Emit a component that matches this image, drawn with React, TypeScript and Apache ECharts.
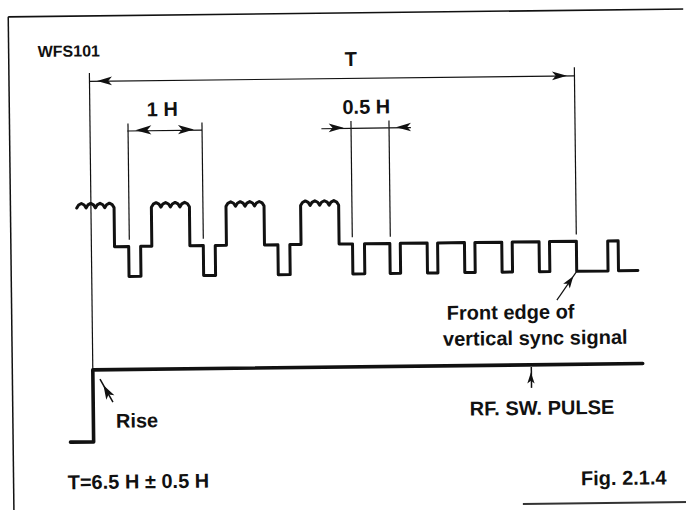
import React, { useEffect, useRef } from "react";
import * as echarts from "echarts";

// ---------- time axis: line periods (H), origin at the start of interval T ----------
const videoBlockStarts = [-0.19, 0.81, 1.81, 2.81];
const videoBlockEnds = [0.31, 1.32, 2.32, 3.32];
const hSyncStarts = [0.5, 1.5, 2.5, 3.5];
const hSyncWidth = 0.16;
const eqPulseStarts = [4.0, 4.5, 5.0, 5.5, 6.0];
const eqPulseWidth = 0.14;
const vSyncEdges = [6.5, 6.92, 7.06, 7.32]; // front edge, serration up, serration down, end

// ---------- signal levels (IRE) ----------
const SYNC_LEVEL = -40;
const BLANK_LEVEL = 0;
const VIDEO_LEVEL = 52;
const rippleShape = [0, 4, 6, 4, 0];
const rippleAt = [0, 0.2, 0.5, 0.8, 1];
const humpsPerLine = 4;

// ---------- RF switching pulse ----------
const rfPulseTime = [-0.31, 0, 0, 7.37];
const rfPulseLevel = [0, 0, 1, 1];

// ---------- dimension markers ----------
const periodT = [0, 6.5];
const oneH = [0.5, 1.5];
const halfH = [3.5, 4.0];
const halfHArrowTails = [3.1, 4.3];
const dimLevelT = 221;
const dimTopT = 232;
const dimLevelH = 155;
const dimTopH = 164;
const dimBottom = 9;

// ---------- annotation arrows ----------
const frontEdgeArrow = [[6.23, -78], [6.5, -40]];
const riseArrow = [[0.265, 0.55], [0.095, 0.87]];
const rfArrow = [[5.87, 0.68], [5.87, 0.97]];

function buildVideo(): number[][] {
  const pts: number[][] = [];
  videoBlockStarts.forEach((a, i) => {
    const b = videoBlockEnds[i];
    if (i > 0) pts.push([a, BLANK_LEVEL]);
    const hump = (b - a) / humpsPerLine;
    pts.push([a, VIDEO_LEVEL]);
    for (let h = 0; h < humpsPerLine; h++) {
      for (let k = 1; k < rippleShape.length; k++) {
        pts.push([a + (h + rippleAt[k]) * hump, VIDEO_LEVEL + rippleShape[k]]);
      }
    }
    pts.push([b, BLANK_LEVEL]);
    const s = hSyncStarts[i];
    pts.push([s, BLANK_LEVEL], [s, SYNC_LEVEL], [s + hSyncWidth, SYNC_LEVEL], [s + hSyncWidth, BLANK_LEVEL]);
  });
  eqPulseStarts.forEach((s) => {
    pts.push([s, BLANK_LEVEL], [s, SYNC_LEVEL], [s + eqPulseWidth, SYNC_LEVEL], [s + eqPulseWidth, BLANK_LEVEL]);
  });
  const [v0, v1, v2, v3] = vSyncEdges;
  pts.push(
    [v0, BLANK_LEVEL], [v0, SYNC_LEVEL], [v1, SYNC_LEVEL], [v1, BLANK_LEVEL],
    [v2, BLANK_LEVEL], [v2, SYNC_LEVEL], [v3, SYNC_LEVEL]
  );
  return pts;
}

const INK = "#111";
const FONT = '"Liberation Sans", Arial, Helvetica, sans-serif';

function end(coord: number[], arrow: boolean, size: number[] = [6.5, 15]) {
  return {
    coord,
    symbol: arrow ? "arrow" : "none",
    symbolSize: size,
    symbolOffset: [0, size[1] / 2],
  };
}

export default function App() {
  const ref = useRef<HTMLDivElement>(null);

  useEffect(() => {
    if (!ref.current) return;
    const chart = echarts.init(ref.current, undefined, { renderer: "svg" });

    const video = buildVideo();
    const rf = rfPulseTime.map((t, i) => [t, rfPulseLevel[i]]);

    chart.setOption({
      animation: false,
      backgroundColor: "#fff",
      grid: { left: 16.885, top: 61, width: 671.54, height: 378, show: false, containLabel: false, outerBoundsMode: "none" },
      xAxis: { type: "value", min: -1, max: 8, show: false },
      yAxis: [
        { type: "value", min: -260, max: 244, show: false },
        { type: "value", min: 0, max: 5.25, show: false },
      ],
      series: [
        {
          type: "line",
          name: "video",
          xAxisIndex: 0,
          yAxisIndex: 0,
          data: video,
          clip: false,
          symbol: "none",
          showSymbol: false,
          silent: true,
          lineStyle: { color: INK, width: 3, join: "round", cap: "round" },
          markLine: {
            silent: true,
            animation: false,
            label: { show: false },
            lineStyle: { color: INK, width: 1.2, type: "solid" },
            itemStyle: { color: INK },
            emphasis: { disabled: true },
            data: [
              // T
              [end([periodT[0], dimLevelT], true), end([periodT[1], dimLevelT], true)],
              [end([periodT[1], dimTopT], false), end([periodT[1], dimBottom], false)],
              // 1 H
              [end([oneH[0], dimLevelH], true, [7, 16]), end([oneH[1], dimLevelH], true, [7, 16])],
              [end([oneH[0], dimTopH], false), end([oneH[0], dimBottom], false)],
              [end([oneH[1], dimTopH], false), end([oneH[1], dimBottom], false)],
              // 0.5 H
              [end([halfHArrowTails[0], dimLevelH], false), end([halfH[0], dimLevelH], true)],
              [end([halfHArrowTails[1], dimLevelH], false), end([halfH[1], dimLevelH], true)],
              [end([halfH[0], dimLevelH], false), end([halfH[1], dimLevelH], false)],
              [end([halfH[0], dimTopH], false), end([halfH[0], dimBottom], false)],
              [end([halfH[1], dimTopH], false), end([halfH[1], dimBottom], false)],
              // front edge of vertical sync
              [end(frontEdgeArrow[0], false), end(frontEdgeArrow[1], true, [6, 12])],
            ],
          },
        },
        {
          type: "line",
          name: "RF. SW. PULSE",
          xAxisIndex: 0,
          yAxisIndex: 1,
          data: rf,
          clip: false,
          symbol: "none",
          showSymbol: false,
          silent: true,
          lineStyle: { color: INK, width: 3.6, join: "round", cap: "round" },
          markLine: {
            silent: true,
            animation: false,
            label: { show: false },
            lineStyle: { color: INK, width: 1.5, type: "solid" },
            itemStyle: { color: INK },
            emphasis: { disabled: true },
            data: [
              [end(riseArrow[0], false), end(riseArrow[1], true, [7, 14])],
              [end(rfArrow[0], false), end(rfArrow[1], true, [5.5, 11])],
            ],
          },
        },
      ],
    });

    const pTop = chart.convertToPixel({ seriesIndex: 0 }, [periodT[0], dimTopT]) as number[];
    const pBot = chart.convertToPixel({ seriesIndex: 1 }, [rfPulseTime[2], rfPulseLevel[2]]) as number[];

    const txt = (text: string, x: number, y: number, size: number, align = "left") => ({
      type: "text",
      x,
      y,
      silent: true,
      style: {
        text,
        fill: INK,
        font: `bold ${size}px ${FONT}`,
        textAlign: align,
        textVerticalAlign: "middle",
        align,
        verticalAlign: "middle",
      },
    });

    chart.setOption({
      graphic: [
        // frame
        { type: "line", silent: true, shape: { x1: 11, y1: 13, x2: 700, y2: 13 }, style: { stroke: INK, lineWidth: 1.6 } },
        { type: "line", silent: true, shape: { x1: 11, y1: 13, x2: 11, y2: 530 }, style: { stroke: INK, lineWidth: 1.5 } },
        { type: "line", silent: true, shape: { x1: 520, y1: 506, x2: 700, y2: 506 }, style: { stroke: "#333", lineWidth: 2 } },
        // left edge of T, down to the rise of the RF switching pulse
        { type: "line", silent: true, shape: { x1: pTop[0], y1: pTop[1], x2: pBot[0], y2: pBot[1] }, style: { stroke: INK, lineWidth: 1.2 } },
        txt("WFS101", 40, 48, 16),
        txt("T", 353, 59, 20, "center"),
        txt("1 H", 164, 107, 20, "center"),
        txt("0.5 H", 368, 107, 20, "center"),
        txt("Front edge of", 446, 314, 20),
        txt("vertical sync signal", 442, 340, 20),
        txt("RF. SW. PULSE", 468, 410, 20),
        txt("Rise", 114, 418, 20),
        txt("T=6.5 H \u00b1 0.5 H", 65, 479, 20),
        txt("Fig. 2.1.4", 664, 481, 20, "right"),
      ],
    });

    return () => chart.dispose();
  }, []);

  return (
    <div
      ref={ref}
      style={{
        position: "absolute",
        left: 0,
        top: 0,
        width: 686,
        height: 510,
        background: "#fff",
        transform: "rotate(-0.66deg)",
        transformOrigin: "343px 255px",
      }}
    />
  );
}
